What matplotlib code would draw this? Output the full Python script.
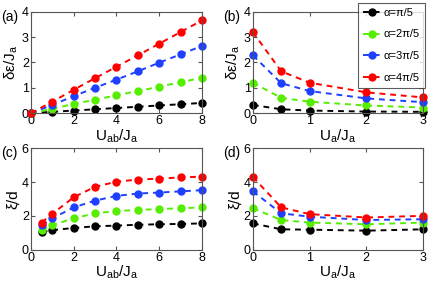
import matplotlib
matplotlib.use('Agg')
import matplotlib.pyplot as plt

plt.rcParams['font.family'] = ['Liberation Sans', 'DejaVu Sans']
plt.rcParams['mathtext.fontset'] = 'custom'
plt.rcParams['mathtext.rm'] = 'Liberation Sans'
plt.rcParams['mathtext.it'] = 'Liberation Sans'

# data
# ---
labels = [r'α=π/5', r'α=2π/5', r'α=3π/5', r'α=4π/5']
colors = ['black', '#55ee00', '#2040ff', '#ff0000']

# (a) energy gap vs U_ab
x_a = [0, 1, 2, 3, 4, 5, 6, 7, 8]
y_a = [
    [0, 0.05, 0.10, 0.15, 0.20, 0.25, 0.30, 0.35, 0.40],
    [0, 0.17, 0.36, 0.53, 0.70, 0.87, 1.04, 1.22, 1.39],
    [0, 0.32, 0.67, 1.00, 1.32, 1.65, 1.99, 2.32, 2.65],
    [0, 0.45, 0.92, 1.38, 1.83, 2.28, 2.74, 3.20, 3.66],
]

# (b) energy gap vs U_a
x_b = [0, 0.5, 1, 2, 3]
y_b = [
    [0.32, 0.15, 0.10, 0.06, 0.05],
    [1.20, 0.60, 0.45, 0.30, 0.22],
    [2.28, 1.18, 0.87, 0.58, 0.43],
    [3.20, 1.65, 1.20, 0.82, 0.62],
]

# (c) xi/d vs U_ab
x_c = [0.5, 1, 2, 3, 4, 5, 6, 7, 8]
y_c = [
    [1.05, 1.15, 1.28, 1.38, 1.42, 1.47, 1.50, 1.52, 1.55],
    [1.15, 1.45, 1.85, 2.15, 2.28, 2.35, 2.40, 2.45, 2.50],
    [1.45, 1.85, 2.50, 2.90, 3.18, 3.32, 3.38, 3.45, 3.52],
    [1.60, 2.12, 3.10, 3.72, 4.02, 4.15, 4.20, 4.28, 4.32],
]

# (d) xi/d vs U_a
x_d = [0, 0.5, 1, 2, 3]
y_d = [
    [1.55, 1.20, 1.18, 1.12, 1.20],
    [2.45, 1.75, 1.60, 1.50, 1.60],
    [3.45, 2.15, 1.95, 1.75, 1.80],
    [4.30, 2.50, 2.10, 1.90, 2.00],
]

# plot
# ---
W, H = 436.0, 282.0
fig = plt.figure(figsize=(4.36, 2.82), dpi=100)
ax_a = fig.add_axes([0.071, 0.599, 0.392, 0.359])
ax_b = fig.add_axes([0.580, 0.599, 0.390, 0.359])
ax_c = fig.add_axes([0.071, 0.115, 0.392, 0.359])
ax_d = fig.add_axes([0.580, 0.115, 0.390, 0.359])

panels = [
    (ax_a, x_a, y_a, '(a)', r'U$_{ab}$/J$_a$', r'δε/J$_a$', [0, 8], [0, 2, 4, 6, 8], [0, 4], [0, 1, 2, 3, 4]),
    (ax_b, x_b, y_b, '(b)', r'U$_a$/J$_a$', r'δε/J$_a$', [0, 3], [0, 1, 2, 3], [0, 4], [0, 1, 2, 3, 4]),
    (ax_c, x_c, y_c, '(c)', r'U$_{ab}$/J$_a$', 'ξ/d', [0, 8], [0, 2, 4, 6, 8], [0, 6], [0, 2, 4, 6]),
    (ax_d, x_d, y_d, '(d)', r'U$_a$/J$_a$', 'ξ/d', [0, 3], [0, 1, 2, 3], [0, 6], [0, 2, 4, 6]),
]

for ax, xs, ys, tag, xl, yl, xlim, xt, ylim, yt in panels:
    for y, c, lab in zip(ys, colors, labels):
        ax.plot(xs, y, '--o', color=c, lw=1.4, ms=5, dashes=(3, 2.5), label=lab, clip_on=False)
    ax.set_xlim(xlim)
    ax.set_ylim(ylim)
    ax.set_xticks(xt)
    ax.set_yticks(yt)
    ax.tick_params(direction='in', top=True, right=True, labelsize=9, length=3, pad=1.5, color='#555555')
    for s in ax.spines.values():
        s.set_color('#555555')
        s.set_linewidth(0.8)
    ax.set_xlabel(xl, fontsize=11, labelpad=0)
    ax.set_ylabel(yl, fontsize=11, labelpad=1)
    # panel tag, placed in figure pixels left of the axes
    pos = ax.get_position()
    fig.text(pos.x0 - 30 / W, pos.y1 - 5 / H, tag, fontsize=10, ha='left', va='center')

leg = ax_b.legend(loc='upper right', bbox_to_anchor=(1.01, 1.09), fontsize=8, frameon=True, fancybox=False,
                  handlelength=1.5, borderpad=0.45, labelspacing=1.05, handletextpad=0.3, borderaxespad=0)
leg.get_frame().set_edgecolor('#333333')
leg.get_frame().set_linewidth(0.8)

plt.savefig('out.png', dpi=100)
plt.close()
